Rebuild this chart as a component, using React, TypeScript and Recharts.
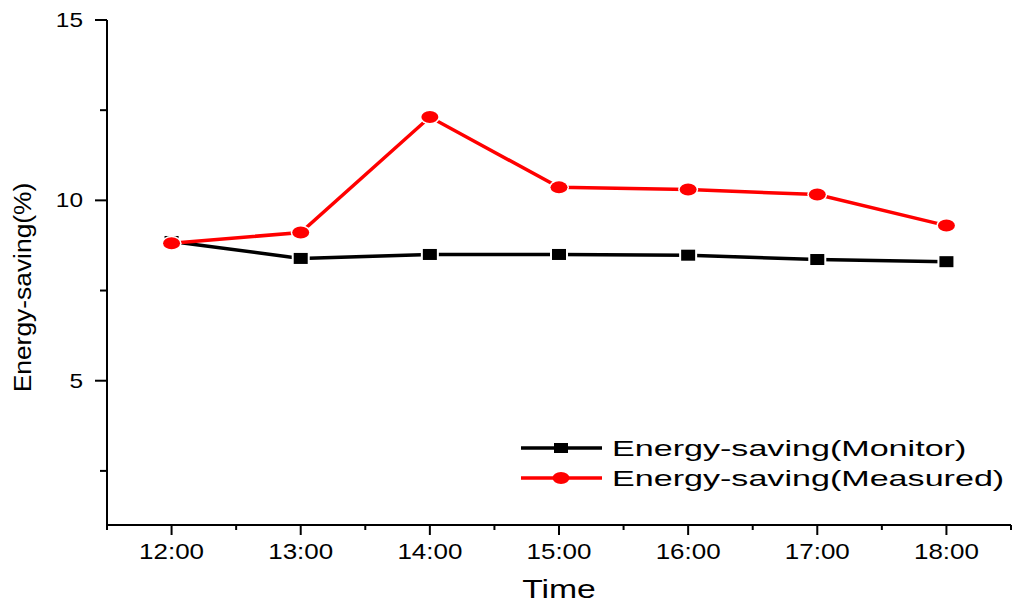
import { LineChart, Line, XAxis, YAxis, Legend } from "recharts";

const hours = [12, 13, 14, 15, 16, 17, 18];
const monitor = [8.86, 8.39, 8.5, 8.5, 8.48, 8.36, 8.3];
const measured = [8.81, 9.11, 12.31, 10.36, 10.3, 10.16, 9.3];

const xTicks = [11.5, 12, 12.5, 13, 13.5, 14, 14.5, 15, 15.5, 16, 16.5, 17, 17.5, 18, 18.5];
const yTicks = [2.5, 5, 7.5, 10, 12.5, 15];
const seriesOrder = ["monitor", "measured"];

const data = hours.map((h, i) => ({
  hour: h,
  monitor: monitor[i],
  measured: measured[i],
}));

const FONT = "'Liberation Sans', Arial, sans-serif";

const YTick = ({ x, y, payload }: any) => {
  const major = payload.value % 5 === 0;
  return (
    <g transform={`translate(${x},${y})`}>
      <line x1={0} x2={major ? -12 : -7} y1={0} y2={0} stroke="#000" strokeWidth={2} />
      {major && (
        <text
          transform="translate(-24,7) scale(1.22,1)"
          textAnchor="end"
          fontSize={20}
          fontFamily={FONT}
          fill="#000"
        >
          {payload.value}
        </text>
      )}
    </g>
  );
};

const XTick = ({ x, y, payload }: any) => {
  const major = Number.isInteger(payload.value);
  return (
    <g transform={`translate(${x},${y})`}>
      <line x1={0} x2={0} y1={0} y2={major ? 10 : 5} stroke="#000" strokeWidth={2} />
      {major && (
        <text
          transform="translate(0,34) scale(1.18,1)"
          textAnchor="middle"
          fontSize={22}
          fontFamily={FONT}
          fill="#000"
        >
          {`${payload.value}:00`}
        </text>
      )}
    </g>
  );
};

const YLabel = ({ viewBox }: any) => {
  const cy = viewBox.y + viewBox.height / 2 + 15;
  return (
    <text
      transform={`translate(23,${cy}) rotate(-90) scale(1.32,1.22)`}
      textAnchor="middle"
      fontSize={20}
      fontFamily={FONT}
      fill="#000"
    >
      Energy-saving(%)
    </text>
  );
};

const XLabel = ({ viewBox }: any) => {
  const cx = viewBox.x + viewBox.width / 2;
  return (
    <text
      transform={`translate(${cx},${viewBox.y + 73}) scale(1.35,1)`}
      textAnchor="middle"
      fontSize={25}
      fontFamily={FONT}
      fill="#000"
    >
      Time
    </text>
  );
};

const SquareDot = ({ cx, cy }: any) => (
  <g>
    <rect x={cx - 9} y={cy - 7.5} width={18} height={15} fill="#fff" />
    <rect x={cx - 7} y={cy - 5.5} width={14} height={11} fill="#000" />
  </g>
);

const CircleDot = ({ cx, cy }: any) => (
  <g>
    <ellipse cx={cx} cy={cy} rx={10} ry={7.5} fill="#fff" />
    <ellipse cx={cx} cy={cy} rx={8.5} ry={6} fill="#ff0000" />
  </g>
);

const LegendContent = ({ payload }: any) => {
  const items = [...(payload || [])].sort(
    (a: any, b: any) => seriesOrder.indexOf(a.dataKey) - seriesOrder.indexOf(b.dataKey)
  );
  return (
    <svg width={510} height={70}>
      {items.map((item: any, i: number) => {
        const y = 20 + i * 30;
        const isMonitor = item.dataKey === "monitor";
        return (
          <g key={`item-${i}`}>
            <line x1={13} x2={94} y1={y} y2={y} stroke={item.color} strokeWidth={3.5} />
            {isMonitor ? (
              <rect x={46} y={y - 5} width={14} height={10} fill="#000" />
            ) : (
              <ellipse cx={53} cy={y} rx={8.5} ry={6} fill="#ff0000" />
            )}
            <text
              transform={`translate(104,${y + 8}) scale(1.55,1)`}
              fontSize={22}
              fontFamily={FONT}
              fill="#000"
            >
              {item.value}
            </text>
          </g>
        );
      })}
    </svg>
  );
};

export default function App() {
  return (
    <LineChart
      width={1008}
      height={595}
      data={data}
      margin={{ top: 12, right: 5, left: 19, bottom: 8 }}
    >
      <XAxis
        dataKey="hour"
        type="number"
        domain={[11.5, 18.5]}
        ticks={xTicks}
        interval={0}
        tickSize={0}
        tickMargin={0}
        tickLine={false}
        tick={<XTick />}
        height={70}
        stroke="#000"
        strokeWidth={2}
        label={<XLabel />}
      />
      <YAxis
        type="number"
        domain={[1, 15]}
        ticks={yTicks}
        interval={0}
        tickSize={0}
        tickMargin={0}
        tickLine={false}
        tick={<YTick />}
        width={80}
        stroke="#000"
        strokeWidth={2}
        label={<YLabel />}
      />
      <Legend
        layout="vertical"
        verticalAlign="middle"
        align="center"
        wrapperStyle={{ left: 500, top: 420, width: 510, height: 70 }}
        content={<LegendContent />}
      />
      <Line
        name="Energy-saving(Monitor)"
        dataKey="monitor"
        stroke="#000"
        strokeWidth={3.5}
        dot={<SquareDot />}
        activeDot={false}
        isAnimationActive={false}
      />
      <Line
        name="Energy-saving(Measured)"
        dataKey="measured"
        stroke="#ff0000"
        strokeWidth={3.5}
        dot={<CircleDot />}
        activeDot={false}
        isAnimationActive={false}
      />
    </LineChart>
  );
}
